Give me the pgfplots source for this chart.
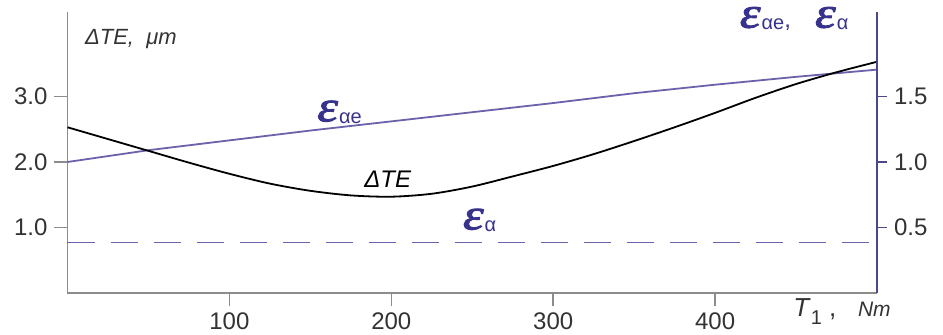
\documentclass[border=0pt]{standalone}
\usepackage{fontspec}
\setmainfont{Liberation Sans}
\newfontfamily\epsfont[UprightFont={* Italic}, FakeBold=2, FakeStretch=1.2]{Liberation Serif}
\usepackage{pgfplots}
\pgfplotsset{compat=1.18}
\definecolor{axgray}{HTML}{8C8C8C}
\definecolor{navy}{HTML}{4B4888}
\definecolor{eline}{HTML}{6A62AA}
\definecolor{elab}{HTML}{37338C}
\definecolor{txt}{HTML}{333333}
\newcommand{\eps}[1]{{\epsfont\fontsize{22}{22}\selectfont ε}\kern0.5pt\raisebox{-1pt}{\fontsize{10}{10}\selectfont #1}}
\begin{document}
\begin{tikzpicture}
\useasboundingbox (0,0) rectangle (471.5pt,167.5pt);
\begin{axis}[
  name=main,
  at={(33.75pt,21pt)}, anchor=south west,
  scale only axis, width=404.75pt, height=140.5pt,
  xmin=0, xmax=500, ymin=0, ymax=4.29,
  axis x line*=bottom, axis y line*=left,
  axis line style={axgray, line width=0.8pt, -},
  xtick={100,200,300,400}, ytick={1,2,3},
  yticklabel style={/pgf/number format/.cd, fixed, fixed zerofill, precision=1},
  tick style={axgray, line width=0.8pt},
  tick align=outside, major tick length=6.5pt,
  ticklabel style={font=\fontsize{12}{12}\selectfont, color=txt},
  /pgf/number format/assume math mode=true,
  clip=false,
]
\addplot[eline, line width=0.9pt] coordinates {
(0,2.00) (50,2.18) (100,2.33) (150,2.48) (200,2.62) (250,2.76) (300,2.90) (350,3.05) (400,3.18) (450,3.30) (500,3.41)};
\addplot[eline, line width=0.9pt, dash pattern=on 13.5pt off 8pt] coordinates {(0,0.77) (500,0.77)};
\addplot[black, line width=0.9pt, smooth] coordinates {
(0,2.53) (25,2.35) (50,2.17) (75,1.99) (100,1.82) (125,1.67) (150,1.56) (175,1.49) (200,1.47) (225,1.515) (250,1.625) (275,1.78) (300,1.94) (325,2.12) (350,2.32) (375,2.53) (400,2.75) (425,2.98) (450,3.19) (475,3.37) (500,3.53)};
\node[anchor=base west, font=\itshape\fontsize{11}{11}\selectfont, txt] at (axis cs:6.5,3.79) {ΔTE,\ \ μm};
\node[anchor=base west, font=\itshape\fontsize{12}{12}\selectfont, black] at (axis cs:179,1.61) {ΔTE};
\node[anchor=base west, elab, inner sep=0pt] at (axis cs:154,2.62) {\eps{αe}};
\node[anchor=base west, elab, inner sep=0pt] at (axis cs:244,0.97) {\eps{α}};
\node[anchor=base west, elab, inner sep=0pt] at (axis cs:415,4.05) {\eps{αe}\fontsize{12}{12}\selectfont,\hspace{12pt}\eps{α}};
\node[anchor=base west, txt] at (axis cs:444,-0.36) {\fontsize{13}{13}\selectfont\textit{T}\raisebox{-4pt}{\fontsize{10}{10}\selectfont 1}\ ,\ \ \ {\fontsize{10.5}{10.5}\selectfont\textit{Nm}}};
\end{axis}
\begin{axis}[
  at={(33.75pt,21pt)}, anchor=south west,
  scale only axis, width=404.75pt, height=140.5pt,
  xmin=0, xmax=500, ymin=0, ymax=2.145,
  axis x line=none, axis y line*=right,
  axis line style={navy, line width=0.9pt, -},
  ytick={0.5,1,1.5},
  yticklabel style={/pgf/number format/.cd, fixed, fixed zerofill, precision=1},
  tick style={navy, line width=0.8pt},
  tick align=outside, major tick length=5pt,
  ticklabel style={font=\fontsize{12}{12}\selectfont, color=txt},
  /pgf/number format/assume math mode=true,
]
\end{axis}
\end{tikzpicture}
\end{document}
